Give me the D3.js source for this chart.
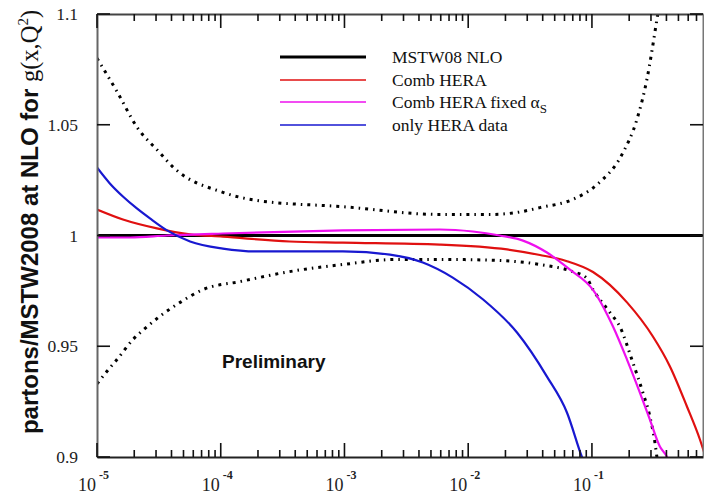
<!DOCTYPE html>
<html>
<head>
<meta charset="utf-8">
<script src="https://cdn.jsdelivr.net/npm/d3@7"></script>
<style>
  body { margin: 0; background: #fff; }
  svg text { font-family: "Liberation Serif", "Times New Roman", serif; }
</style>
</head>
<body>
<div id="chart"></div>
<script>
// chart values
var yTicks = [0.9, 0.95, 1, 1.05, 1.1];
var yTickLabels = ["0.9", "0.95", "1", "1.05", "1.1"];
var xDecades = [1e-5, 1e-4, 1e-3, 1e-2, 1e-1];
var xDecadeLabels = ["-5", "-4", "-3", "-2", "-1"];

var legendNames = ["MSTW08 NLO", "Comb HERA", "Comb HERA fixed \u03b1", "only HERA data"];

// MSTW08 reference (ratio = 1)
var mstwX = [1e-5, 0.79];
var mstwY = [1, 1];

// Comb HERA (red)
var combX = [1e-5, 1.62e-5, 3.05e-5, 5.65e-5, 1.04e-4, 3.6e-4, 9.7e-4, 5.9e-3, 0.0206, 0.038, 0.062, 0.102, 0.192, 0.311, 0.427, 0.586, 0.746, 0.85];
var combY = [1.0117, 1.0072, 1.0032, 1.0005, 0.9995, 0.9973, 0.9968, 0.9959, 0.9937, 0.9912, 0.9885, 0.9835, 0.9698, 0.9544, 0.9409, 0.9228, 0.9079, 0.898];

// Comb HERA fixed alpha_s (magenta)
var fixedX = [1e-5, 1.85e-5, 3.68e-5, 1.04e-4, 9.7e-4, 5.9e-3, 0.0109, 0.018, 0.0277, 0.0433, 0.066, 0.102, 0.148, 0.192, 0.244, 0.294, 0.354, 0.404, 0.43];
var fixedY = [0.9991, 0.9991, 1.0000, 1.0009, 1.0023, 1.0027, 1.0018, 1.0000, 0.9977, 0.9923, 0.9847, 0.9755, 0.9589, 0.9440, 0.9291, 0.9169, 0.9047, 0.900, 0.896];

// only HERA data (blue)
var onlyX = [1e-5, 1.27e-5, 1.62e-5, 2.1e-5, 2.68e-5, 3.68e-5, 5.65e-5, 1.04e-4, 1.96e-4, 9.7e-4, 2.33e-3, 4.3e-3, 7.5e-3, 0.0132, 0.0248, 0.0433, 0.0628, 0.083, 0.09];
var onlyY = [1.0307, 1.0235, 1.0176, 1.0122, 1.0077, 1.0023, 0.9973, 0.9941, 0.9928, 0.9928, 0.9914, 0.9878, 0.9810, 0.9711, 0.9562, 0.9363, 0.9201, 0.900, 0.895];

// uncertainty band (black dash-dot)
var upperX = [1e-5, 1.45e-5, 2.1e-5, 3.2e-5, 4.1e-5, 1.04e-4, 1.96e-4, 9.7e-4, 5.9e-3, 0.015, 0.0248, 0.038, 0.070, 0.110, 0.175, 0.231, 0.278, 0.335, 0.363];
var upperY = [1.080, 1.065, 1.049, 1.0375, 1.031, 1.0195, 1.0158, 1.013, 1.0095, 1.0095, 1.0104, 1.0126, 1.0163, 1.023, 1.0366, 1.0524, 1.0704, 1.0975, 1.11];
var lowerX = [1e-5, 1.2e-5, 1.45e-5, 1.95e-5, 2.55e-5, 3.2e-5, 4.7e-5, 7.2e-5, 1.43e-4, 3.6e-4, 9.7e-4, 2.65e-3, 5.9e-3, 0.018, 0.038, 0.070, 0.090, 0.102, 0.140, 0.168, 0.214, 0.258, 0.294, 0.323, 0.335, 0.35];
var lowerY = [0.933, 0.9386, 0.944, 0.953, 0.9589, 0.9634, 0.9698, 0.9756, 0.9792, 0.9837, 0.9869, 0.9892, 0.9892, 0.9887, 0.9869, 0.9837, 0.981, 0.9756, 0.9652, 0.9589, 0.9427, 0.9291, 0.9183, 0.9065, 0.900, 0.893];

var svgWidth = 704;
var svgHeight = 494;
var plotLeft = 97, plotRight = 703, plotTop = 14, plotBottom = 457;

var svg = d3.select("#chart")
  .append("svg")
  .attr("width", svgWidth)
  .attr("height", svgHeight);

svg.append("rect").attr("width", svgWidth).attr("height", svgHeight).attr("fill", "#fff");

var xScale = d3.scaleLog().domain([1e-5, 0.79]).range([plotLeft, plotRight]);
var yScale = d3.scaleLinear().domain([0.9, 1.1]).range([plotBottom, plotTop]);

// minor ticks 2..9 in each decade
var minorTicks = [];
xDecades.forEach(function(d) {
  for (var k = 2; k <= 9; k++) {
    if (d * k <= 0.79) minorTicks.push(d * k);
  }
});

svg.append("defs").append("clipPath").attr("id", "plotclip")
  .append("rect").attr("x", plotLeft).attr("y", plotTop)
  .attr("width", plotRight - plotLeft).attr("height", plotBottom - plotTop);

var plot = svg.append("g").attr("clip-path", "url(#plotclip)");

function series(xs, ys) {
  return xs.map(function(x, i) { return [x, ys[i]]; });
}

var lineGen = d3.line()
  .x(function(d) { return xScale(d[0]); })
  .y(function(d) { return yScale(d[1]); })
  .curve(d3.curveMonotoneX);

// band
[series(upperX, upperY), series(lowerX, lowerY)].forEach(function(s) {
  plot.append("path")
    .attr("d", lineGen(s))
    .attr("fill", "none")
    .attr("stroke", "#000")
    .attr("stroke-width", 3)
    .attr("stroke-dasharray", "3,5,1.5,5");
});

plot.append("path").attr("d", lineGen(series(mstwX, mstwY)))
  .attr("fill", "none").attr("stroke", "#000").attr("stroke-width", 3);

plot.append("path").attr("d", lineGen(series(combX, combY)))
  .attr("fill", "none").attr("stroke", "#e01010").attr("stroke-width", 2.2);

plot.append("path").attr("d", lineGen(series(fixedX, fixedY)))
  .attr("fill", "none").attr("stroke", "#ee10ee").attr("stroke-width", 2.2);

plot.append("path").attr("d", lineGen(series(onlyX, onlyY)))
  .attr("fill", "none").attr("stroke", "#1818d0").attr("stroke-width", 2.2);

// frame from the axes
function frameAxis(g, color) {
  g.selectAll(".domain").attr("stroke", color).attr("stroke-width", 2);
  g.selectAll(".tick").remove();
}
svg.append("g").attr("transform", "translate(0," + plotBottom + ")")
  .call(d3.axisBottom(xScale).tickValues([]).tickSizeOuter(0)).call(frameAxis, "#222");
svg.append("g").attr("transform", "translate(0," + plotTop + ")")
  .call(d3.axisTop(xScale).tickValues([]).tickSizeOuter(0)).call(frameAxis, "#444");
svg.append("g").attr("transform", "translate(" + plotRight + ",0)")
  .call(d3.axisRight(yScale).tickValues([]).tickSizeOuter(0)).call(frameAxis, "#777");

var leftAxis = svg.append("g").attr("transform", "translate(" + plotLeft + ",0)")
  .call(d3.axisLeft(yScale).tickValues(yTicks).tickSize(0).tickSizeOuter(0)
    .tickPadding(19).tickFormat(function(d, i) { return yTickLabels[i]; }));
leftAxis.selectAll(".domain").attr("stroke", "#666").attr("stroke-width", 2);
leftAxis.selectAll(".tick line").remove();
leftAxis.selectAll(".tick text").attr("font-size", 17.5).attr("fill", "#222")
  .style("font-family", "'Liberation Serif', serif");

// inward tick marks as small filled bars, placed with the scales
var tickG = svg.append("g").attr("fill", "#111");
function addXTicks(vals, len) {
  tickG.selectAll(null).data(vals).enter().append("rect")
    .attr("x", function(d) { return xScale(d) - 0.8; })
    .attr("y", plotBottom - len)
    .attr("width", 1.6).attr("height", len);
  tickG.selectAll(null).data(vals).enter().append("rect")
    .attr("x", function(d) { return xScale(d) - 0.8; })
    .attr("y", plotTop)
    .attr("width", 1.6).attr("height", len);
}
addXTicks(minorTicks, 7);
addXTicks(xDecades, 14);
tickG.selectAll(null).data(yTicks).enter().append("rect")
  .attr("x", plotLeft).attr("y", function(d) { return yScale(d) - 0.8; })
  .attr("width", 13).attr("height", 1.6);
tickG.selectAll(null).data(yTicks).enter().append("rect")
  .attr("x", plotRight - 13).attr("y", function(d) { return yScale(d) - 0.8; })
  .attr("width", 13).attr("height", 1.6);

// x decade labels 10^n
xDecades.forEach(function(d, i) {
  var xp = xScale(d);
  svg.append("text")
    .attr("x", xp - 1).attr("y", 491)
    .attr("text-anchor", "end")
    .attr("font-size", 18).attr("fill", "#222")
    .text("10");
  svg.append("text")
    .attr("x", xp + 2).attr("y", 479)
    .attr("font-size", 12).attr("font-weight", "bold").attr("fill", "#222")
    .text(xDecadeLabels[i]);
});

// y axis title
var ylab = svg.append("text")
  .attr("transform", "translate(38,222) rotate(-90)")
  .attr("text-anchor", "middle")
  .attr("fill", "#111");
ylab.append("tspan")
  .style("font-family", "'Liberation Sans', Arial, sans-serif")
  .attr("font-weight", "bold").attr("font-size", 24)
  .text("partons/MSTW2008 at NLO for ");
ylab.append("tspan").attr("font-size", 24.5).text("g(x,Q");
ylab.append("tspan").attr("font-size", 15).attr("dy", -10).text("2");
ylab.append("tspan").attr("font-size", 24.5).attr("dy", 10).text(")");

// Preliminary
svg.append("text")
  .attr("x", 222).attr("y", 368)
  .style("font-family", "'Liberation Sans', Arial, sans-serif")
  .attr("font-weight", "bold").attr("font-size", 19).attr("fill", "#111")
  .text("Preliminary");

// legend
var legendColors = ["#000", "#e01010", "#ee10ee", "#1818d0"];
var legendWidths = [3, 1.6, 1.6, 1.6];
var legendRowY = [57, 80, 102, 125];
var legend = svg.append("g");
legendNames.forEach(function(name, i) {
  legend.append("line")
    .attr("x1", 280).attr("x2", 366)
    .attr("y1", legendRowY[i]).attr("y2", legendRowY[i])
    .attr("stroke", legendColors[i]).attr("stroke-width", legendWidths[i]);
  var t = legend.append("text")
    .attr("x", 392).attr("y", legendRowY[i] + 6)
    .attr("font-size", 17.5).attr("fill", "#111");
  t.append("tspan").text(name);
  if (i === 2) {
    t.append("tspan").attr("font-size", 13).attr("dy", 5).text("S");
  }
});
</script>
</body>
</html>
